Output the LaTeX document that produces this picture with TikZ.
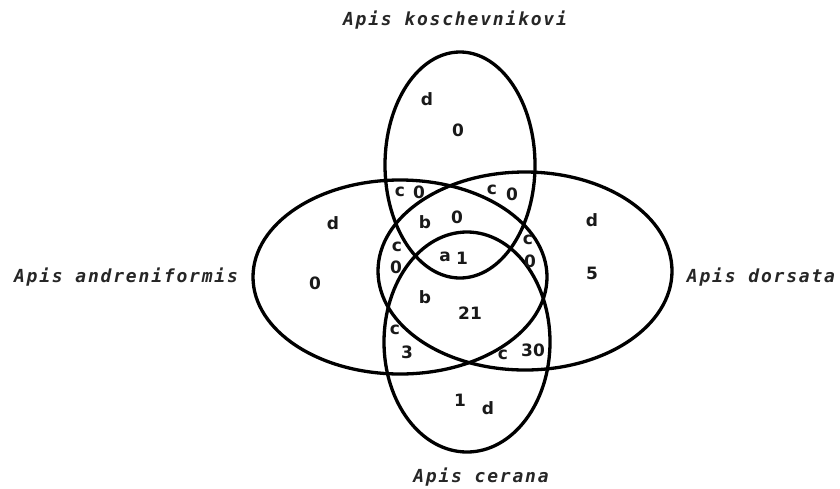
\documentclass[tikz,border=0pt]{standalone}
\usepackage{fontspec}
\setmainfont{DejaVu Sans}
\newfontfamily\labfont[LetterSpace=10]{DejaVu Sans Mono}
\begin{document}
\begin{tikzpicture}[x=1pt,y=-1pt,
  setring/.style={line width=3.3pt,draw=black},
  species/.style={font=\labfont\fontsize{18}{20}\selectfont\itshape\bfseries,inner sep=0pt,text=black!85},
  reg/.style={font=\fontsize{17}{19}\selectfont\bfseries,inner sep=0.5pt,text=black!90}]
\useasboundingbox (0,0) rectangle (840,488);
% sets
\draw[setring] (460,165) ellipse [x radius=75, y radius=113];
\draw[setring] (400,277) ellipse [x radius=147, y radius=97];
\draw[setring] (525,271) ellipse [x radius=147, y radius=99];
\draw[setring] (467,342) ellipse [x radius=83, y radius=110];
% species names
\node[species] (kos) at (455,20) {Apis koschevnikovi};
\node[species] (and) at (126,277) {Apis andreniformis};
\node[species] (dor) at (761,277) {Apis dorsata};
\node[species] (cer) at (481,477) {Apis cerana};
% region labels
\node[reg] (kd) at (427,99) {d};
\node[reg] (k0) at (458,130) {0};
\node[reg] (ad) at (333,223) {d};
\node[reg] (a0) at (315,283) {0};
\node[reg] (dd) at (592,220) {d};
\node[reg] (d5) at (592,273) {5};
\node[reg] (c1) at (460,400) {1};
\node[reg] (cd) at (488,408) {d};
\node[reg] (c1a) at (400,192) {c};
\node[reg] (n1a) at (419,192) {0};
\node[reg] (c1b) at (492,190) {c};
\node[reg] (n1b) at (512,194) {0};
\node[reg] (bb1) at (425,222) {b};
\node[reg] (n0) at (457,217) {0};
\node[reg] (c2a) at (397,247) {c};
\node[reg] (n2a) at (396,267) {0};
\node[reg] (c2b) at (528,240) {c};
\node[reg] (n2b) at (530,261) {0};
\node[reg] (aa) at (445,257) {a};
\node[reg] (n1) at (462,258) {1};
\node[reg] (bb2) at (425,297) {b};
\node[reg] (n21) at (470,313) {21};
\node[reg] (c3a) at (395,330) {c};
\node[reg] (n3) at (407,352) {3};
\node[reg] (c3b) at (503,355) {c};
\node[reg] (n30) at (533,350) {30};
\end{tikzpicture}
\end{document}
